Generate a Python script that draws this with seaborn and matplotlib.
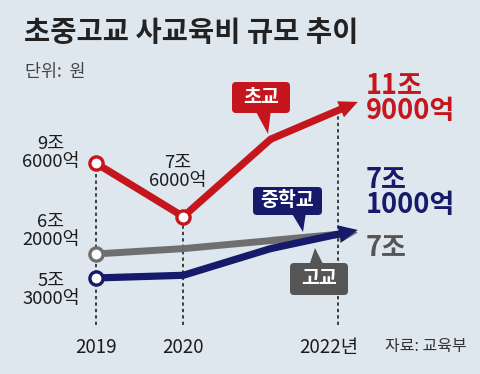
import matplotlib
matplotlib.use('Agg')
import matplotlib.pyplot as plt
import matplotlib.transforms as mtransforms
from matplotlib.patches import FancyBboxPatch, Polygon
import pandas as pd
import seaborn as sns

# 사교육비 (조원)
years = [2019, 2020, 2021, 2022]
elem = [9.6, 7.6, 10.5, 11.9]
middle = [5.3, 5.4, 6.4, 7.1]
high = [6.2, 6.4, 6.7, 7.0]
names = ['초교', '중학교', '고교']
year_labels = ['2019', '2020', '2022년']

bg = '#dee7ee'
red = '#c5161d'
navy = '#17196a'
gray = '#6f6f6f'

sns.set_theme(style='white')
plt.rcParams['font.family'] = ['Noto Sans CJK KR', 'DejaVu Sans']

df = pd.DataFrame({'year': years * 3,
                   'value': elem + middle + high,
                   'school': [n for n in names for _ in years]})

fig = plt.figure(figsize=(4.8, 3.74), dpi=100, facecolor=bg)
ax = fig.add_axes([0, 0, 1, 1])
ax.set_facecolor(bg)
ax.set_xlim(2017.90, 2023.40)
ax.set_ylim(1.70, 15.72)
ax.set_axis_off()

# pixel coords from top-left, for the annotation layer
px = mtransforms.Affine2D().scale(1 / 100, -1 / 100).translate(0, 3.74) + fig.dpi_scale_trans


def won(v):
    jo = int(v)
    eok = round((v - jo) * 10000)
    return f'{jo}조\n{eok}억' if eok else f'{jo}조'


# dotted guides
guide_x = [years[0], years[1], years[3] - 0.23]
guide_top = [elem[0], elem[1], elem[2] + (elem[3] - elem[2]) * 0.77]
ax.vlines(guide_x, 3.55, guide_top, colors='#111111', lw=1.1,
          linestyles=(0, (2.2, 2.0)), zorder=1)

styles = {'고교': (gray, 5.0, 1), '초교': (red, 5.2, 2), '중학교': (navy, 5.2, 3)}
for name in ['고교', '초교', '중학교']:
    color, lw, z = styles[name]
    d = df[df['school'] == name]
    nmark = [0, 1] if name == '초교' else [0]
    sns.lineplot(data=d[d['year'] <= 2021], x='year', y='value', color=color, lw=lw,
                 marker='o', markersize=9.5, markerfacecolor='white', markeredgecolor=color,
                 markeredgewidth=2.4, markevery=nmark, solid_capstyle='round',
                 solid_joinstyle='round', ax=ax, zorder=z + 2, legend=False)
    v = d['value'].values
    ax.annotate('', xy=(2022, v[3]), xytext=(2021, v[2]),
                arrowprops=dict(arrowstyle='simple,head_length=1.35,head_width=1.25,tail_width=0.52',
                                fc=color, ec='none', lw=0, mutation_scale=10,
                                shrinkA=0, shrinkB=0),
                zorder=z + 2)

# value labels
lab_kw = dict(textcoords='offset pixels', ha='center', va='center', fontsize=13.3,
              color='#1c1c1c', linespacing=1.0, zorder=8)
ax.annotate(won(elem[0]), xy=(years[0], elem[0]), xytext=(-45, 10), **lab_kw)
ax.annotate(won(elem[1]), xy=(years[1], elem[1]), xytext=(-6, 45), **lab_kw)
ax.annotate(won(high[0]), xy=(years[0], high[0]), xytext=(-45, 23), **lab_kw)
ax.annotate(won(middle[0]), xy=(years[0], middle[0]), xytext=(-45, -12), **lab_kw)

end_kw = dict(textcoords='offset pixels', ha='left', va='center', fontsize=19.5,
              fontweight='bold', linespacing=0.86, zorder=8)
ax.annotate(won(elem[3]), xy=(years[3], elem[3]), xytext=(8, 3), color=red, **end_kw)
ax.annotate(won(middle[3]), xy=(years[3], middle[3]), xytext=(8, 37), color=navy, **end_kw)
ax.annotate(won(high[3]), xy=(years[3], high[3]), xytext=(8, -15), color='#555555', **end_kw)

# year labels
ax.text(years[0], 2.71, year_labels[0], ha='center', va='center', fontsize=13.5, color='#1c1c1c')
ax.text(years[1], 2.71, year_labels[1], ha='center', va='center', fontsize=13.5, color='#1c1c1c')
ax.text(years[3], 2.71, year_labels[2], ha='right', va='center', fontsize=13.5, color='#1c1c1c')
fig.text(385, 347, '자료: 교육부', transform=px, ha='left', va='center', fontsize=11.5, color='#333333')

# title
fig.text(24, 33, '초중고교 사교육비 규모 추이', transform=px, ha='left', va='center',
         fontsize=20.5, fontweight='bold', color='#222222')
fig.text(25, 72, '단위:  원', transform=px, ha='left', va='center', fontsize=12.5, color='#444444')


def bubble(cx, cy, w, h, label, color, tail):
    fig.add_artist(FancyBboxPatch((cx - w / 2, cy - h / 2), w, h,
                                  boxstyle='round,pad=0,rounding_size=4',
                                  transform=px, fc=color, ec='none', zorder=9))
    fig.add_artist(Polygon(tail, closed=True, transform=px, fc=color, ec='none', zorder=9))
    fig.text(cx, cy, label, transform=px, ha='center', va='center', fontsize=14,
             fontweight='bold', color='white', zorder=10)


bubble(261, 97.5, 58, 31, names[0], red, [(255, 110), (271, 110), (268, 134)])
bubble(287.5, 201, 69, 28, names[1], navy, [(291, 212), (306, 212), (303, 232)])
bubble(319, 279, 58, 32, names[2], '#555555', [(309, 266), (324, 266), (315, 248)])

fig.savefig('out.png', dpi=100, facecolor=bg)
